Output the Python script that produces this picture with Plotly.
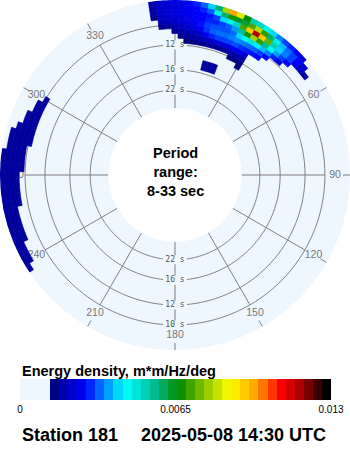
import math
import plotly.graph_objects as go

# ---------------- data ----------------
# frequency band centres (Hz) of the directional spectrum rows
freq_centers = [0.067, 0.071, 0.075, 0.079, 0.083, 0.087, 0.091,
                0.095, 0.099, 0.103, 0.107, 0.111, 0.115, 0.119]
freq_bin_width = 0.004
dir_bin_width = 2.5
# directions (deg, coming from) that carry energy; all others are zero
directions = [352.5, 355, 357.5, 0, 2.5, 5, 7.5, 10, 12.5, 15, 17.5, 20, 22.5, 25,
              27.5, 30, 32.5, 35, 37.5, 40, 42.5, 45, 47.5, 50, 52.5,
              237.5, 240, 242.5, 245, 247.5, 250, 252.5, 255, 257.5, 260, 262.5,
              265, 267.5, 270, 272.5, 275, 277.5, 280, 282.5, 285, 287.5, 290,
              292.5, 295, 297.5, 300]
# energy density in units of 1e-4 m*m/Hz/deg; one row per direction, one column per band
energy_e4 = [
    [0, 0, 0, 0, 0, 0, 0, 0, 0, 0, 13, 15, 16, 16],        # 352.5
    [0, 0, 0, 0, 0, 0, 0, 0, 14, 17, 19, 20, 20, 20],      # 355
    [0, 0, 0, 0, 0, 0, 0, 0, 15, 18, 20, 21, 21, 21],      # 357.5
    [0, 0, 0, 0, 0, 0, 0, 14, 17, 20, 21, 22, 22, 22],     # 0
    [0, 0, 0, 0, 0, 0, 13, 16, 18, 21, 22, 23, 23, 23],    # 2.5
    [0, 0, 0, 0, 0, 12, 15, 17, 20, 22, 24, 24, 24, 25],   # 5
    [0, 0, 0, 0, 0, 12, 15, 18, 22, 24, 25, 25, 26, 28],   # 7.5
    [0, 0, 0, 0, 0, 13, 16, 20, 25, 27, 26, 26, 28, 32],   # 10
    [0, 0, 0, 0, 0, 13, 18, 24, 29, 30, 28, 27, 32, 40],   # 12.5
    [15, 15, 0, 0, 0, 14, 20, 28, 32, 31, 28, 30, 45, 58],   # 15
    [15, 15, 0, 0, 0, 14, 21, 30, 33, 31, 30, 40, 58, 80],   # 17.5
    [15, 15, 0, 0, 0, 14, 22, 30, 33, 31, 32, 45, 68, 100],  # 20
    [0, 0, 0, 0, 0, 14, 22, 30, 34, 33, 36, 50, 64, 85],   # 22.5
    [0, 0, 0, 0, 12, 16, 24, 31, 35, 40, 55, 72, 62, 66],  # 25
    [0, 0, 0, 0, 12, 16, 23, 29, 34, 44, 68, 95, 72, 52],  # 27.5
    [0, 0, 0, 11, 12, 16, 22, 28, 33, 48, 80, 118, 82, 50],  # 30
    [0, 0, 0, 0, 0, 0, 0, 27, 32, 42, 70, 95, 70, 45],     # 32.5
    [0, 0, 0, 0, 0, 0, 0, 24, 30, 38, 56, 74, 58, 40],     # 35
    [0, 0, 0, 0, 0, 0, 0, 0, 26, 34, 44, 52, 46, 34],      # 37.5
    [0, 0, 0, 0, 0, 0, 0, 0, 0, 28, 36, 40, 38, 30],       # 40
    [0, 0, 0, 0, 0, 0, 0, 0, 0, 22, 30, 34, 33, 28],       # 42.5
    [0, 0, 0, 0, 0, 0, 0, 0, 0, 0, 26, 30, 30, 26],        # 45
    [0, 0, 0, 0, 0, 0, 0, 0, 0, 0, 0, 24, 25, 22],         # 47.5
    [0, 0, 0, 0, 0, 0, 0, 0, 0, 0, 0, 20, 20, 0],          # 50
    [0, 0, 0, 0, 0, 0, 0, 0, 0, 0, 0, 16, 0, 0],           # 52.5
    [0, 0, 0, 0, 0, 0, 0, 0, 0, 0, 0, 0, 0, 15],           # 237.5
    [0, 0, 0, 0, 0, 0, 0, 0, 0, 0, 0, 0, 15, 15],          # 240
    [0, 0, 0, 0, 0, 0, 0, 0, 0, 0, 0, 0, 15, 15],          # 242.5
    [0, 0, 0, 0, 0, 0, 0, 0, 0, 0, 0, 0, 15, 15],          # 245
    [0, 0, 0, 0, 0, 0, 0, 0, 0, 0, 0, 15, 15, 15],         # 247.5
    [0, 0, 0, 0, 0, 0, 0, 0, 0, 0, 0, 15, 15, 15],         # 250
    [0, 0, 0, 0, 0, 0, 0, 0, 0, 0, 0, 15, 15, 15],         # 252.5
    [0, 0, 0, 0, 0, 0, 0, 0, 0, 0, 0, 15, 15, 15],         # 255
    [0, 0, 0, 0, 0, 0, 0, 0, 0, 0, 0, 15, 15, 15],         # 257.5
    [0, 0, 0, 0, 0, 0, 0, 0, 0, 0, 15, 15, 15, 15],        # 260
    [0, 0, 0, 0, 0, 0, 0, 0, 0, 0, 15, 15, 15, 15],        # 262.5
    [0, 0, 0, 0, 0, 0, 0, 0, 0, 0, 15, 15, 15, 15],        # 265
    [0, 0, 0, 0, 0, 0, 0, 0, 0, 0, 15, 15, 15, 15],        # 267.5
    [0, 0, 0, 0, 0, 0, 0, 0, 0, 0, 15, 15, 15, 15],        # 270
    [0, 0, 0, 0, 0, 0, 0, 0, 0, 15, 15, 15, 15, 15],       # 272.5
    [0, 0, 0, 0, 0, 0, 0, 0, 0, 15, 15, 15, 15, 15],       # 275
    [0, 0, 0, 0, 0, 0, 0, 0, 0, 15, 15, 15, 15, 15],       # 277.5
    [0, 0, 0, 0, 0, 0, 0, 0, 0, 15, 15, 15, 15, 0],        # 280
    [0, 0, 0, 0, 0, 0, 0, 0, 15, 15, 15, 15, 15, 0],       # 282.5
    [0, 0, 0, 0, 0, 0, 0, 0, 15, 15, 15, 15, 15, 0],       # 285
    [0, 0, 0, 0, 0, 0, 0, 0, 15, 15, 15, 15, 0, 0],        # 287.5
    [0, 0, 0, 0, 0, 0, 0, 0, 15, 15, 15, 0, 0, 0],         # 290
    [0, 0, 0, 0, 0, 0, 0, 0, 15, 15, 15, 0, 0, 0],         # 292.5
    [0, 0, 0, 0, 0, 0, 0, 0, 15, 15, 0, 0, 0, 0],          # 295
    [0, 0, 0, 0, 0, 0, 0, 0, 15, 15, 0, 0, 0, 0],          # 297.5
    [0, 0, 0, 0, 0, 0, 0, 0, 15, 0, 0, 0, 0, 0],           # 300
]
ring_periods = [22, 16, 12, 10]
ring_labels = ["22 s", "16 s", "12 s", "10 s"]
angle_ticks = [0, 30, 60, 90, 120, 150, 180, 210, 240, 270, 300, 330]
angle_labels = ["0", "30", "60", "90", "120", "150", "180", "210", "240", "270", "300", "330"]
cbar_ticks = [0, 0.0065, 0.013]
cbar_labels = ["0", "0.0065", "0.013"]
cbar_title = "Energy density, m*m/Hz/deg"
center_text = "Period<br>range:<br>8-33 sec"
station_text = "Station 181"
time_text = "2025-05-08 14:30 UTC"

# ---------------- layout geometry ----------------
W, H = 350, 450
R = 175.0            # polar radius in px
HOLE_PX = 66.7
F0, F1 = 0.0303, 0.121
hole = HOLE_PX / R
CMAX = 0.013


def f_at(px):
    return F0 + (px - HOLE_PX) / (R - HOLE_PX) * (F1 - F0)


def px_at(f):
    return HOLE_PX + (f - F0) / (F1 - F0) * (R - HOLE_PX)


GRID = "#7f7f7f"
BG = "#EEF6FE"
T0 = 0.0675
colorscale = [
    [0.0, BG], [T0, BG],
    [T0, "#00005E"], [0.13, "#0000B0"], [0.2, "#0000FF"],
    [0.27, "#0090FF"], [0.33, "#00FFFF"], [0.42, "#00C0A0"],
    [0.51, "#008A00"], [0.6, "#90C800"], [0.68, "#FFFF00"],
    [0.77, "#FFA000"], [0.845, "#FF0000"], [0.92, "#A00000"],
    [1.0, "#000000"],
]


def hex_rgb(h):
    h = h.lstrip("#")
    return [int(h[i:i + 2], 16) for i in (0, 2, 4)]


def color_at(t):
    t = min(max(t, 0.0), 1.0)
    for (t0, c0), (t1, c1) in zip(colorscale[:-1], colorscale[1:]):
        if t0 <= t <= t1 and t1 > t0:
            a = (t - t0) / (t1 - t0)
            r0, r1 = hex_rgb(c0), hex_rgb(c1)
            return "rgb(%d,%d,%d)" % tuple(round(x0 + (x1 - x0) * a) for x0, x1 in zip(r0, r1))
    return "rgb(0,0,0)"


def color_for(v):
    return color_at(v / CMAX)


# stepped version of the scale for the colour bar
NSTEP = 32
stepped = [[0.0, BG], [T0, BG]]
for i in range(NSTEP):
    a = T0 + (1 - T0) * i / NSTEP
    b = T0 + (1 - T0) * (i + 1) / NSTEP
    c = color_at(a if i < NSTEP - 1 else 1.0)
    c = color_at(a + (b - a) * (i / (NSTEP - 1)))
    stepped += [[a, c], [b, c]]

fig = go.Figure()

# rings (period circles), broken where their labels sit at 0 and 180 deg
ring_r, ring_t = [], []
for p in ring_periods:
    f = 1.0 / p
    gap = math.degrees(12.0 / px_at(f))
    for a0, a1 in [(gap, 180 - gap), (180 + gap, 360 - gap)]:
        n = int((a1 - a0) / 1.0) + 1
        for i in range(n + 1):
            ring_t.append(a0 + (a1 - a0) * i / n)
            ring_r.append(f)
        ring_t.append(None)
        ring_r.append(None)
fig.add_trace(go.Scatterpolar(r=ring_r, theta=ring_t, mode="lines",
                              line=dict(color=GRID, width=1), hoverinfo="skip",
                              showlegend=False, connectgaps=False))

# spokes
sp_r, sp_t = [], []
for a in angle_ticks:
    if a in (0, 180):
        start = F0
        for p in sorted(ring_periods, reverse=True):
            f = 1.0 / p
            sp_r += [start, f_at(px_at(f) - 4.5), None]
            sp_t += [a, a, None]
            start = f_at(px_at(f) + 4.5)
    else:
        sp_r += [F0, 1.0 / min(ring_periods), None]
        sp_t += [a, a, None]
    sp_r += [f_at(168), F1, None]
    sp_t += [a, a, None]
fig.add_trace(go.Scatterpolar(r=sp_r, theta=sp_t, mode="lines",
                              line=dict(color=GRID, width=1), hoverinfo="skip",
                              showlegend=False, connectgaps=False))

# angle labels
fig.add_trace(go.Scatterpolar(r=[f_at(160)] * len(angle_ticks), theta=angle_ticks,
                              mode="text", text=angle_labels,
                              textfont=dict(family="Liberation Sans", size=10.5, color="#777777"),
                              hoverinfo="skip", showlegend=False))

# ring labels at top and bottom
rl_r, rl_t, rl_s = [], [], []
for p, lab in zip(ring_periods, ring_labels):
    for a in (0, 180):
        rl_r.append(1.0 / p)
        rl_t.append(a)
        rl_s.append(lab)
fig.add_trace(go.Scatterpolar(r=rl_r, theta=rl_t, mode="text", text=rl_s,
                              textfont=dict(family="DejaVu Sans Mono", size=8, color="#555555"),
                              hoverinfo="skip", showlegend=False))

# energy cells, drawn above the grid as filled polar sectors
for d, row in zip(directions, energy_e4):
    for fc, v in zip(freq_centers, row):
        if v <= 0:
            continue
        val = v * 1e-4
        f_lo, f_hi = fc - freq_bin_width / 2, fc + freq_bin_width / 2
        n = 3
        ts = [d - dir_bin_width / 2 + dir_bin_width * i / n for i in range(n + 1)]
        th = ts + ts[::-1] + [ts[0]]
        rr = [f_hi] * len(ts) + [f_lo] * len(ts) + [f_hi]
        col = color_for(val)
        fig.add_trace(go.Scatterpolar(r=rr, theta=th, mode="lines", fill="toself",
                                      fillcolor=col, line=dict(color=col, width=0.7),
                                      hoverinfo="skip", showlegend=False))

# colour scale legend
fig.add_trace(go.Scatterpolar(
    r=[F0], theta=[0], mode="markers", hoverinfo="skip", showlegend=False,
    marker=dict(size=0.1, opacity=0, color=[0], colorscale=stepped, cmin=0, cmax=CMAX,
                showscale=True,
                colorbar=dict(orientation="h", x=175.5 / W, xanchor="center",
                              y=(H - 379) / H, yanchor="top",
                              len=311, lenmode="pixels", thickness=21, thicknessmode="pixels",
                              xpad=0, ypad=0, outlinewidth=0, borderwidth=0,
                              tickvals=cbar_ticks, ticktext=cbar_labels, ticks="",
                              tickfont=dict(family="Liberation Sans", size=10, color="black")))))

fig.update_layout(
    width=W, height=H, margin=dict(l=0, r=0, t=0, b=0),
    paper_bgcolor="white",
    polar=dict(
        domain=dict(x=[0, 1], y=[(H - 2 * R) / H, 1]),
        hole=hole, bgcolor=BG,
        radialaxis=dict(range=[F0, F1], visible=False, showgrid=False,
                        showticklabels=False, showline=False, ticks=""),
        angularaxis=dict(rotation=90, direction="clockwise", visible=False,
                         showgrid=False, showticklabels=False, showline=False, ticks=""),
    ),
    annotations=[
        dict(text="<b>" + center_text + "</b>", x=0.5, y=(H - 172) / H, xref="paper", yref="paper",
             showarrow=False, xanchor="center", yanchor="middle",
             font=dict(family="Liberation Sans", size=14.5, color="black")),
        dict(text="<b>" + cbar_title + "</b>", x=20 / W, y=(H - 371) / H, xref="paper", yref="paper",
             showarrow=False, xanchor="left", yanchor="middle",
             font=dict(family="Liberation Sans", size=14.5, color="black")),
        dict(text="<b>" + station_text + "</b>", x=20 / W, y=(H - 435) / H, xref="paper", yref="paper",
             showarrow=False, xanchor="left", yanchor="middle",
             font=dict(family="Liberation Sans", size=18, color="black")),
        dict(text="<b>" + time_text + "</b>", x=139 / W, y=(H - 435) / H, xref="paper", yref="paper",
             showarrow=False, xanchor="left", yanchor="middle",
             font=dict(family="Liberation Sans", size=18, color="black")),
    ],
)

fig.write_html("out.html")
